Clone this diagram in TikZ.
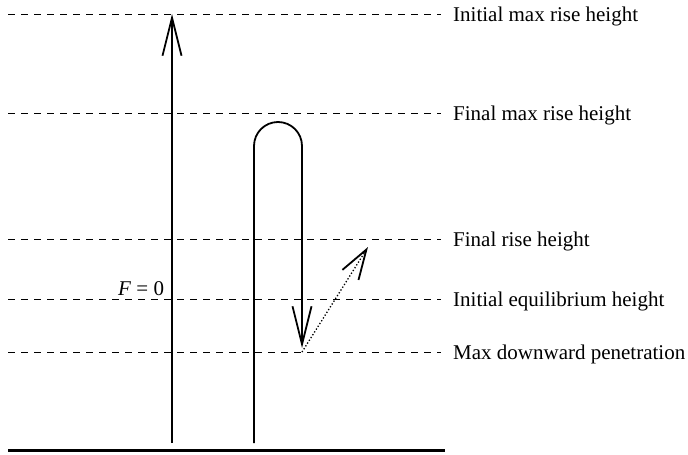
\documentclass[tikz,border=0pt]{standalone}
\usepackage{fontspec}
\setmainfont{Liberation Serif}
\usetikzlibrary{arrows.meta, positioning}

\begin{document}
\begin{tikzpicture}[x=1pt, y=-1pt, font=\fontsize{21}{24}\selectfont,
    level/.style={dashed, dash pattern=on 7pt off 6pt, line width=0.8pt},
    lab/.style={anchor=base west, inner sep=0pt},
    path/.style={line width=1.8pt, -{Straight Barb[length=38pt, width=19pt, line width=1.8pt]}}]
  \useasboundingbox (0,0) rectangle (688,455);
  % levels
  \foreach \y/\n/\t in {14/imax/Initial max rise height, 113/fmax/Final max rise height,
      239/frise/Final rise height, 299/equi/Initial equilibrium height,
      352/pen/Max downward penetration} {
    \coordinate (\n-l) at (8,\y);
    \coordinate (\n-r) at (441,\y);
    \node[lab] (\n) at (453,\y+7) {\t};
    \draw[level] (\n-l) -- (\n-r);
  }
  % ground
  \coordinate (gl) at (8,450);
  \coordinate (gr) at (445,450);
  \draw[line width=3pt] (gl) -- (gr);
  % F = 0 rise
  \coordinate (a0) at (172,443);
  \coordinate (a1) at (172,14);
  \draw[path] (a0) -- (a1);
  \node[lab] (fz) at (118,295) {\textit{F} = 0};
  % overshoot loop
  \coordinate (b0) at (254,443);
  \coordinate (b1) at (254,146);
  \coordinate (b2) at (302,348);
  \draw[path] (b0) -- (b1) arc[start angle=180, end angle=360, radius=24] -- (b2);
  % rebound
  \coordinate (c0) at (302,352);
  \coordinate (c1) at (368,247);
  \draw[line width=1.3pt, dotted, -{Straight Barb[length=30pt, width=19pt, line width=1.8pt]}] (c0) -- (c1);
\end{tikzpicture}
\end{document}
